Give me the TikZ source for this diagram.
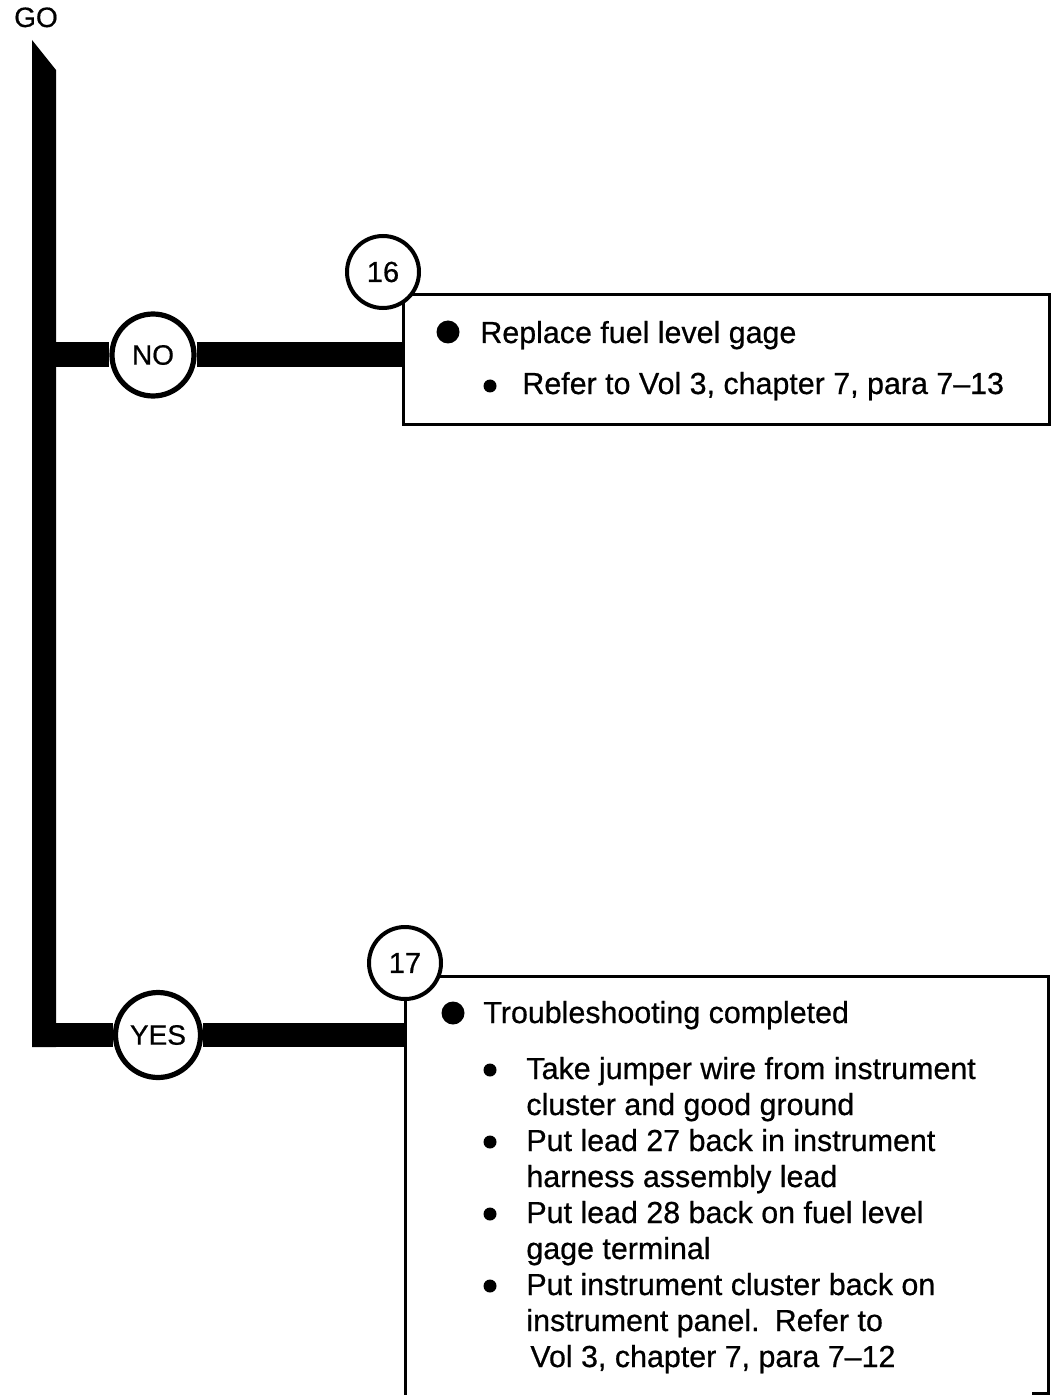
\documentclass[tikz,border=0pt]{standalone}
\usepackage{fontspec}
\setmainfont{Liberation Sans}[FakeBold=0.6]
\usepackage{tikz}
\usetikzlibrary{positioning, calc}

\begin{document}
\begin{tikzpicture}[x=0.5pt, y=-0.5pt, font=\fontsize{15.2}{18}\selectfont,
  answer/.style={circle, draw, line width=2.6pt, fill=white, inner sep=0pt,
                 minimum size=41pt, font=\fontsize{14}{16}\selectfont},
  stepno/.style={circle, draw, line width=2pt, fill=white, inner sep=0pt,
                 minimum size=36pt, font=\fontsize{14.5}{16}\selectfont},
  branch/.style={line width=12.5pt},
  actbox/.style={rectangle, draw, line width=1.5pt, inner sep=0pt, anchor=north west},
  txt/.style={anchor=base west, inner sep=0pt},
  bigdot/.style={circle, fill, inner sep=0pt, minimum size=11.5pt},
  smalldot/.style={circle, fill, inner sep=0pt, minimum size=6.5pt}]
  \useasboundingbox (0,0) rectangle (1055,1395);

  % start of the path
  \node[anchor=base, inner sep=0pt, font=\fontsize{14}{16}\selectfont] (go) at (36,27) {GO};
  \fill (32,40) -- (56,70) -- (56,1047) -- (32,1047) -- cycle;
  \coordinate (nofork) at (44,355);
  \coordinate (yesfork) at (32,1035);

  % step 16
  \node[actbox, minimum width=323pt, minimum height=65pt] (box16) at (402,293) {};
  \node[answer] (no) at (153,355) {NO};
  \draw[branch] (nofork) -- (no);
  \draw[branch] (no) -- (no -| box16.west);
  \node[stepno] (s16) at (383,272) {16};
  \node[bigdot] (d16) at (448,332) {};
  \node[txt] (t16) at (480,343) {Replace fuel level gage};
  \node[smalldot] (d16a) at (490,386) {};
  \node[txt] (t16a) at (522,394) {Refer to Vol 3, chapter 7, para 7--13};

  % step 17
  \coordinate (box17) at (405,976);
  \draw[line width=1.5pt] (405,1395) -- (box17) -- (1048,976) -- (1048,1393) -- (1032,1393);
  \node[answer, minimum size=42.5pt] (yes) at (158,1035) {YES};
  \draw[branch, line width=12pt] (yesfork) -- (yes);
  \draw[branch, line width=12pt] (yes) -- (yes -| box17);
  \node[stepno] (s17) at (405,963) {17};
  \node[bigdot] (d17) at (453,1013) {};
  \node[txt] (t17) at (483,1023) {Troubleshooting completed};
  \node[smalldot] (d17a) at (490,1070) {};
  \node[txt] (t17a) at (526,1079) {Take jumper wire from instrument};
  \node[txt] (t17b) at (526,1115) {cluster and good ground};
  \node[smalldot] (d17c) at (490,1142) {};
  \node[txt] (t17c) at (526,1151) {Put lead 27 back in instrument};
  \node[txt] (t17d) at (526,1187) {harness assembly lead};
  \node[smalldot] (d17e) at (490,1214) {};
  \node[txt] (t17e) at (526,1223) {Put lead 28 back on fuel level};
  \node[txt] (t17f) at (526,1259) {gage terminal};
  \node[smalldot] (d17g) at (490,1286) {};
  \node[txt] (t17g) at (526,1295) {Put instrument cluster back on};
  \node[txt] (t17h) at (526,1331) {instrument panel.\enspace Refer to};
  \node[txt] (t17i) at (530,1367) {Vol 3, chapter 7, para 7--12};
\end{tikzpicture}
\end{document}
